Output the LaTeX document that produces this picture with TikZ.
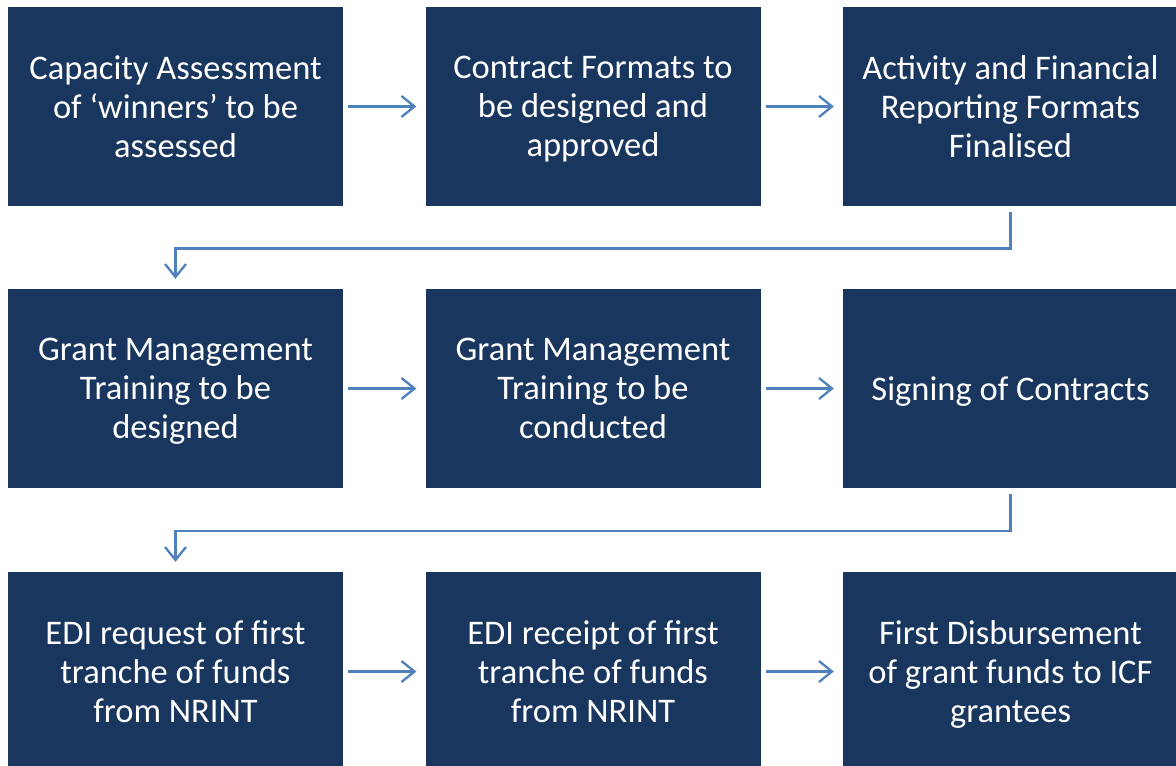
\documentclass[tikz,border=0pt]{standalone}
\usepackage{fontspec}
\setmainfont{Carlito}
\usetikzlibrary{arrows.meta}
\definecolor{boxblue}{RGB}{24,54,94}
\definecolor{arrowblue}{RGB}{79,129,189}
\tikzset{
  stepbox/.style={fill=boxblue, draw=none, minimum width=335pt, minimum height=199pt,
    inner sep=0pt, text=white, align=center, text depth=0pt,
    font=\fontsize{34.5}{39}\selectfont},
  conn/.style={draw=arrowblue, line width=2.3pt,
    -{Straight Barb[length=13pt, width=21pt, line width=2.3pt]}}
}
\begin{document}
\begin{tikzpicture}[x=1pt, y=-1pt]
\useasboundingbox (0,0) rectangle (1176,766);
\fill[white] (0,0) rectangle (1176,766);
\clip (0,0) rectangle (1176,766);
% row 1
\node[stepbox] (a1) at (175.5,106.5) {Capacity Assessment\\of ‘winners’ to be\\assessed};
\node[stepbox] (a2) at (593,106.5) {Contract Formats to\\be designed and\\approved};
\node[stepbox] (a3) at (1010.5,106.5) {Activity and Financial\\Reporting Formats\\Finalised};
% row 2
\node[stepbox] (b1) at (175.5,388.5) {Grant Management\\Training to be\\designed};
\node[stepbox] (b2) at (593,388.5) {Grant Management\\Training to be\\conducted};
\node[stepbox] (b3) at (1010.5,388.5) {Signing of Contracts};
% row 3
\node[stepbox] (c1) at (175.5,671.5) {EDI request of first\\tranche of funds\\from NRINT};
\node[stepbox] (c2) at (593,671.5) {EDI receipt of first\\tranche of funds\\from NRINT};
\node[stepbox] (c3) at (1010.5,671.5) {First Disbursement\\of grant funds to ICF\\grantees};
% horizontal arrows
\draw[conn] ([xshift=5pt]a1.east) -- ([xshift=-9pt]a2.west);
\draw[conn] ([xshift=5pt]a2.east) -- ([xshift=-9pt]a3.west);
\draw[conn] ([xshift=5pt]b1.east) -- ([xshift=-9pt]b2.west);
\draw[conn] ([xshift=5pt]b2.east) -- ([xshift=-9pt]b3.west);
\draw[conn] ([xshift=5pt]c1.east) -- ([xshift=-9pt]c2.west);
\draw[conn] ([xshift=5pt]c2.east) -- ([xshift=-9pt]c3.west);
% elbow connectors
\coordinate (e1) at (175.5,248.5);
\coordinate (e2) at (175.5,531);
\draw[conn] ([yshift=-6pt]a3.south) |- (e1) -- ([yshift=10pt]b1.north);
\draw[conn] ([yshift=-6pt]b3.south) |- (e2) -- ([yshift=10pt]c1.north);
\end{tikzpicture}
\end{document}
